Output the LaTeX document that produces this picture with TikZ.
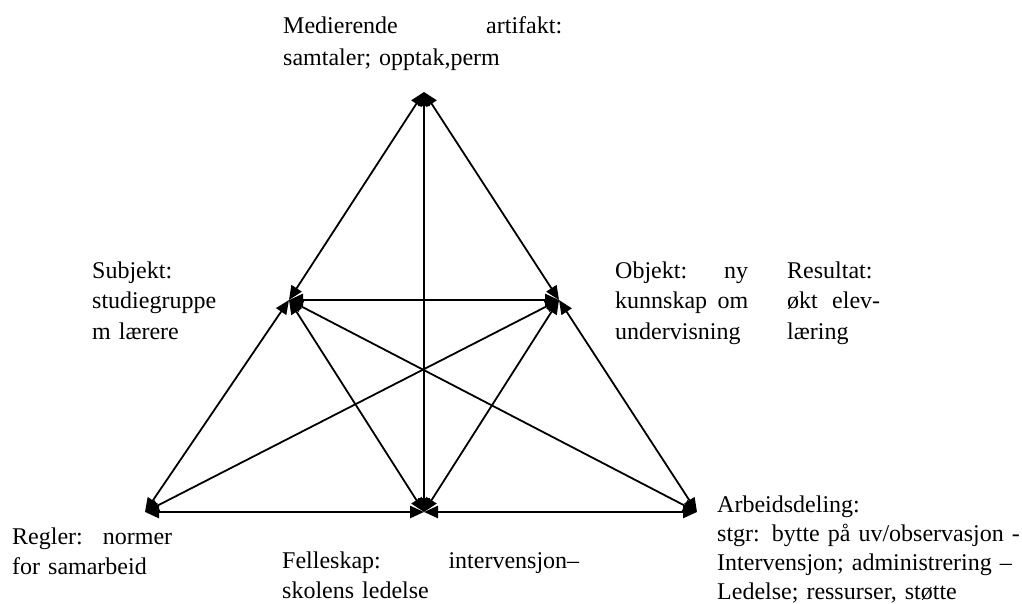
\documentclass[tikz,border=0pt]{standalone}
\usepackage{fontspec}
\setmainfont{Liberation Serif}
\usetikzlibrary{arrows.meta}

\newcommand{\wordgap}{\hskip 0pt plus 1filll\relax}

\begin{document}
\begin{tikzpicture}[x=1pt, y=-1pt,
  >={Triangle[length=14pt, width=12pt]},
  link/.style={<->, line width=1.8pt},
  baseline link/.style={<->, line width=2.5pt},
  thin link/.style={<->, line width=1.2pt},
  lbl/.style={anchor=base west, inner sep=0pt, align=left,
    font=\fontsize{24}{30.7}\selectfont}]
  \useasboundingbox (0,0) rectangle (1022,603);

  % Corners
  \coordinate (artifakt) at (424,92);
  \coordinate (subjekt) at (289,300);
  \coordinate (objekt) at (559,300);
  \coordinate (regler) at (145,512);
  \coordinate (felleskap) at (424,512);
  \coordinate (arbeid) at (697,512);

  % Outer sides
  \draw[link] (artifakt) -- (subjekt);
  \draw[link] (artifakt) -- (objekt);
  \draw[link] (subjekt) -- (regler);
  \draw[link] (objekt) -- (arbeid);

  % Horizontal lines
  \draw[baseline link] (subjekt) -- (objekt);
  \draw[baseline link] (regler) -- (felleskap);
  \draw[baseline link] (felleskap) -- (arbeid);

  % Inner lines
  \draw[thin link] (artifakt) -- (felleskap);
  \draw[link] (subjekt) -- (felleskap);
  \draw[link] (subjekt) -- (arbeid);
  \draw[link] (objekt) -- (regler);
  \draw[link] (objekt) -- (felleskap);

  % Labels
  \node[lbl, text width=279pt, font=\fontsize{24}{32}\selectfont] (artifakttext) at (283,33)
    {Medierende\wordgap artifakt:\\samtaler; opptak,perm};
  \node[lbl, text width=124pt] (subjekttext) at (92,278)
    {Subjekt:\\studiegruppe\\m lærere};
  \node[lbl, text width=133pt] (objekttext) at (615,278)
    {Objekt:\wordgap ny\\kunnskap\wordgap om\\undervisning};
  \node[lbl, text width=93pt] (resultattext) at (787,278)
    {Resultat:\\økt\wordgap elev-\\læring};
  \node[lbl, text width=160pt] (reglertext) at (12,544)
    {Regler:\wordgap normer\\for samarbeid};
  \node[lbl, text width=297pt] (felleskaptext) at (282,568)
    {Felleskap:\wordgap intervensjon–\\skolens ledelse};
  \node[lbl, text width=305pt, font=\fontsize{24}{29.3}\selectfont] (arbeidtext) at (717,512)
    {Arbeidsdeling:\\stgr: bytte på uv/observasjon -\\Intervensjon; administrering –\\Ledelse; ressurser, støtte};
\end{tikzpicture}
\end{document}
